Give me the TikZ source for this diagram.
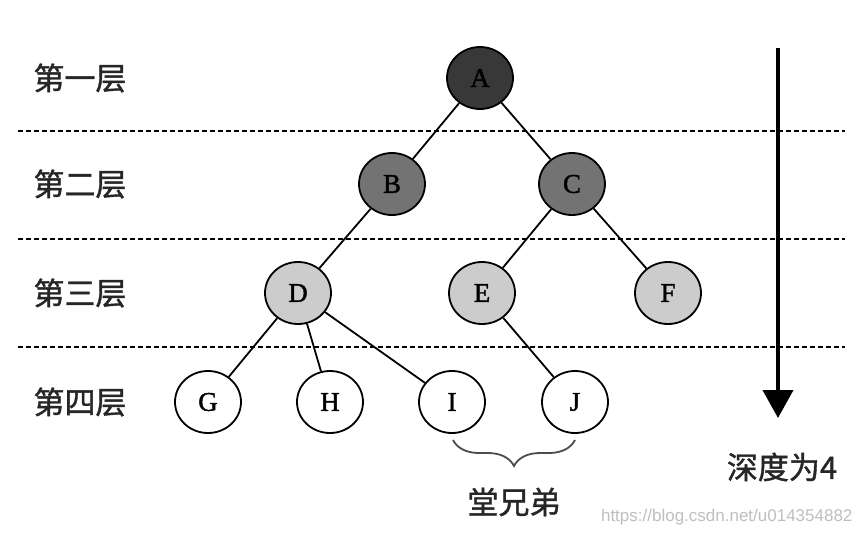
\documentclass[tikz,border=0pt]{standalone}
\usepackage{fontspec}
\setmainfont{Liberation Serif}
\newfontfamily\cjk[FakeBold=1.2]{Noto Sans CJK SC}
\newfontfamily\nodefont[FakeBold=1.5]{Liberation Serif}
\newfontfamily\wmfont{Liberation Sans}
\usetikzlibrary{decorations.pathreplacing,arrows.meta,shapes.geometric}
\begin{document}
\begin{tikzpicture}[x=1pt,y=-1pt,
  tnode/.style={ellipse, draw=black, line width=1.8pt, minimum width=66pt, minimum height=62pt, inner sep=0pt, font=\nodefont\fontsize{27}{27}\selectfont},
  lvA/.style={tnode, fill=black!78},
  lvB/.style={tnode, fill=black!55},
  lvC/.style={tnode, fill=black!20},
  lvD/.style={tnode, fill=white},
  edge/.style={line width=1.8pt},
  sep/.style={line width=1.6pt, dash pattern=on 5pt off 3pt},
  lab/.style={font=\cjk\fontsize{31}{31}\selectfont, text=black!85}
]
\useasboundingbox (0,0) rectangle (860,536);
\fill[white] (0,0) rectangle (860,536);
% separators
\draw[sep] (18,131) -- (845,131);
\draw[sep] (18,239) -- (845,239);
\draw[sep] (18,347) -- (845,347);
% level labels
\node[lab] (L1) at (80,78) {第一层};
\node[lab] (L2) at (80,184) {第二层};
\node[lab] (L3) at (80,293) {第三层};
\node[lab] (L4) at (80,402) {第四层};
% nodes
\node[lvA] (A) at (480,78) {A};
\node[lvB] (B) at (392,184) {B};
\node[lvB] (C) at (572,184) {C};
\node[lvC] (D) at (298,293) {D};
\node[lvC] (E) at (482,293) {E};
\node[lvC] (F) at (668,293) {F};
\node[lvD] (G) at (208,402) {G};
\node[lvD] (H) at (330,402) {H};
\node[lvD] (I) at (452,402) {I};
\node[lvD] (J) at (575,402) {J};
% edges
\draw[edge] (A) -- (B);
\draw[edge] (A) -- (C);
\draw[edge] (B) -- (D);
\draw[edge] (C) -- (E);
\draw[edge] (C) -- (F);
\draw[edge] (D) -- (G);
\draw[edge] (D) -- (H);
\draw[edge] (D) -- (I);
\draw[edge] (E) -- (J);
% brace
\coordinate (bl) at (453,440);
\coordinate (br) at (575,440);
\draw[line width=1.8pt, black!70, decorate, decoration={brace, mirror, amplitude=26pt}] (bl) -- (br);
\node[lab] (sib) at (514,502) {堂兄弟};
% depth arrow
\coordinate (dtop) at (778,48);
\coordinate (dbot) at (778,418);
\draw[line width=4pt, -{Triangle[length=28pt, width=30pt]}] (dtop) -- (dbot);
\node[lab] (depth) at (782,467) {深度为4};
% watermark
\node[font=\wmfont\fontsize{17}{17}\selectfont, text=black!25, anchor=east] (wm) at (856,517) {https://blog.csdn.net/u014354882};
\end{tikzpicture}
\end{document}
